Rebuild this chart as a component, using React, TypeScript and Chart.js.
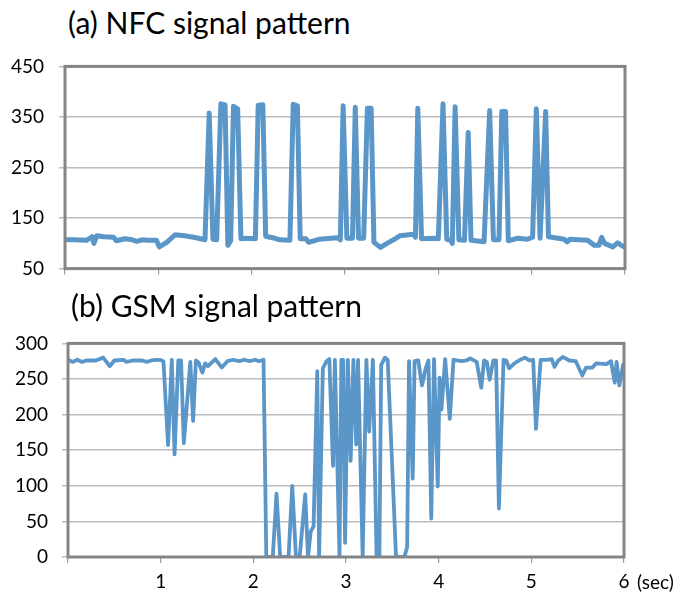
import React, { useEffect, useRef } from "react";
import { Chart, registerables } from "chart.js";

Chart.register(...registerables);

// ---- Data (time in seconds, signal value) ----
const nfcTime = [
  0, 0.1, 0.23, 0.29, 0.31, 0.34, 0.42, 0.52, 0.55, 0.64, 0.72, 0.77, 0.83, 0.88, 0.98, 1.01, 1.09, 1.18, 1.28,
  1.38, 1.5, 1.545, 1.585, 1.625, 1.67, 1.715, 1.745, 1.775, 1.805, 1.85, 1.885, 1.95, 2.04, 2.07, 2.12, 2.15,
  2.25, 2.3, 2.41, 2.445, 2.49, 2.52, 2.58, 2.61, 2.72, 2.92, 2.95, 2.98, 3.02, 3.08, 3.11, 3.145, 3.2, 3.24,
  3.28, 3.31, 3.38, 3.45, 3.52, 3.59, 3.73, 3.755, 3.78, 3.82, 3.95, 4.0, 4.05, 4.09, 4.13, 4.15, 4.18, 4.22,
  4.28, 4.32, 4.35, 4.49, 4.55, 4.59, 4.65, 4.68, 4.72, 4.75, 4.85, 4.95, 5.01, 5.05, 5.09, 5.15, 5.18, 5.35,
  5.38, 5.41, 5.6, 5.67, 5.72, 5.75, 5.78, 5.87, 5.92, 5.95, 5.99,
];
const nfcValue = [
  107, 107, 106, 113, 100, 115, 113, 112, 105, 109, 107, 104, 107, 106, 106, 93, 102, 117, 115,
  112, 107, 358, 108, 107, 376, 374, 96, 105, 371, 366, 109, 110, 109, 373, 374, 114,
  110, 107, 106, 375, 372, 109, 109, 102, 108, 111, 107, 372, 110, 110, 369, 110, 110, 367,
  367, 102, 92, 100, 107, 115, 118, 112, 367, 109, 110, 109, 376, 108, 106, 100, 370, 107,
  106, 319, 106, 103, 363, 107, 107, 361, 361, 105, 110, 108, 112, 366, 110, 361, 113, 108,
  103, 108, 106, 96, 96, 112, 100, 93, 101, 97, 93,
];

const gsmTime = [
  0, 0.05, 0.1, 0.15, 0.2, 0.3, 0.38, 0.45, 0.5, 0.6, 0.63, 0.7, 0.8, 0.85, 0.9, 0.95, 0.99, 1.03, 1.08, 1.12,
  1.15, 1.19, 1.22, 1.25, 1.32, 1.35, 1.38, 1.41, 1.45, 1.48, 1.51, 1.59, 1.66, 1.72, 1.78, 1.85, 1.9, 1.96,
  2.02, 2.06, 2.11, 2.14, 2.21, 2.25, 2.29, 2.38, 2.42, 2.46, 2.5, 2.56, 2.59, 2.62, 2.65, 2.69, 2.71, 2.75,
  2.79, 2.82, 2.86, 2.88, 2.93, 2.95, 2.97, 2.99, 3.02, 3.05, 3.08, 3.11, 3.13, 3.18, 3.22, 3.25, 3.29, 3.33,
  3.36, 3.38, 3.42, 3.45, 3.54, 3.63, 3.66, 3.68, 3.72, 3.74, 3.78, 3.82, 3.86, 3.89, 3.92, 3.95, 3.99, 4.01,
  4.03, 4.07, 4.12, 4.16, 4.25, 4.3, 4.34, 4.41, 4.46, 4.49, 4.52, 4.55, 4.59, 4.62, 4.65, 4.7, 4.73, 4.76,
  4.8, 4.84, 4.88, 4.93, 4.98, 5.02, 5.05, 5.1, 5.17, 5.22, 5.25, 5.29, 5.34, 5.41, 5.48, 5.55, 5.59, 5.66,
  5.7, 5.81, 5.86, 5.9, 5.92, 5.95, 5.99,
];
const gsmValue = [
  277, 274, 277, 274, 276, 276, 280, 268, 276, 277, 274, 276, 276, 274, 276, 277, 277, 275, 157, 277,
  144, 276, 276, 160, 274, 191, 276, 273, 259, 272, 268, 278, 266, 275, 277, 275, 277, 275,
  277, 275, 277, 0, 0, 89, 0, 0, 100, 0, 0, 88, 0, 36, 43, 261, 0, 265,
  275, 278, 128, 277, 0, 277, 277, 20, 277, 135, 277, 158, 277, 0, 277, 176, 277, 0,
  0, 270, 280, 277, 0, 0, 14, 275, 110, 275, 276, 241, 265, 276, 54, 278, 99, 252,
  207, 278, 194, 277, 275, 276, 279, 274, 238, 276, 274, 249, 276, 276, 68, 277, 276, 265,
  270, 274, 277, 280, 276, 277, 180, 277, 277, 278, 267, 276, 281, 276, 275, 255, 266, 266,
  272, 271, 275, 245, 274, 241, 270,
];

const nfcTicks = [50, 150, 250, 350, 450];
const gsmTicks = [0, 50, 100, 150, 200, 250, 300];
const secondTicks = [0, 1, 2, 3, 4, 5, 6];

const LINE_COLOR = "#5a96c8";
const FONT = "Lato";

const framePlugin = {
  id: "frame",
  afterDraw(chart: any) {
    const { ctx, chartArea } = chart;
    ctx.save();
    ctx.strokeStyle = "#858585";
    ctx.lineWidth = 3;
    ctx.strokeRect(chartArea.left, chartArea.top, chartArea.right - chartArea.left, chartArea.bottom - chartArea.top);
    ctx.restore();
  },
};

function makeConfig(
  times: number[],
  values: number[],
  yTicks: number[],
  lineWidth: number,
  showX: boolean,
  pad: { top: number; bottom: number; right: number },
  yWidth: number,
  xHeight: number,
  yPad: number
): any {
  const ymin = yTicks[0];
  const ymax = yTicks[yTicks.length - 1];
  return {
    type: "line",
    data: {
      datasets: [
        {
          data: times.map((t, i) => ({ x: t, y: values[i] })),
          borderColor: LINE_COLOR,
          borderWidth: lineWidth,
          pointRadius: 0,
          tension: 0,
          borderJoinStyle: "round",
          borderCapStyle: "round",
          fill: false,
        },
      ],
    },
    options: {
      responsive: false,
      animation: false,
      events: [],
      layout: { padding: { left: 0, top: pad.top, bottom: pad.bottom, right: pad.right } },
      plugins: { legend: { display: false }, tooltip: { enabled: false }, title: { display: false } },
      scales: {
        x: {
          type: "linear",
          min: secondTicks[0],
          max: secondTicks[secondTicks.length - 1],
          afterBuildTicks: (s: any) => {
            s.ticks = secondTicks.map((v) => ({ value: v }));
          },
          afterFit: (s: any) => {
            s.height = xHeight;
          },
          grid: { drawOnChartArea: false, drawTicks: true, tickLength: 6, color: "#9a9a9a", lineWidth: 1.2 },
          border: { display: false },
          ticks: {
            display: showX,
            padding: 7,
            color: "#000",
            font: { family: FONT, size: 19 },
            maxRotation: 0,
            autoSkip: false,
            callback: (v: any) => (v === 0 ? "" : String(v)),
          },
        },
        y: {
          type: "linear",
          min: ymin,
          max: ymax,
          afterBuildTicks: (s: any) => {
            s.ticks = yTicks.map((v) => ({ value: v }));
          },
          afterFit: (s: any) => {
            s.width = yWidth;
          },
          grid: { drawTicks: true, tickLength: 6, color: "#bcbcbc", lineWidth: 1.5 },
          border: { display: false },
          ticks: {
            padding: yPad,
            color: "#000",
            font: { family: FONT, size: 19 },
            autoSkip: false,
          },
        },
      },
    },
    plugins: [framePlugin],
  };
}

function ChartCanvas(props: { config: () => any; top: number; height: number }) {
  const ref = useRef<HTMLCanvasElement | null>(null);
  useEffect(() => {
    if (!ref.current) return;
    const chart = new Chart(ref.current, props.config());
    return () => chart.destroy();
  }, []);
  return (
    <canvas
      ref={ref}
      width={681}
      height={props.height}
      style={{ position: "absolute", left: 0, top: props.top, width: 681, height: props.height }}
    />
  );
}

export default function App() {
  const titleStyle: React.CSSProperties = {
    position: "absolute",
    fontFamily: FONT,
    fontSize: 30,
    lineHeight: "30px",
    color: "#000",
    whiteSpace: "nowrap",
  };
  return (
    <div style={{ position: "absolute", left: 0, top: 0, width: 681, height: 596, background: "#fff", overflow: "hidden" }}>
      <div style={{ ...titleStyle, left: 68, top: 7 }}>(a) NFC signal pattern</div>
      <ChartCanvas
        top={40}
        height={255}
        config={() =>
          makeConfig(nfcTime, nfcValue, nfcTicks, 5, false, { top: 18, bottom: 10, right: 56 }, 65, 10, 15)
        }
      />
      <div style={{ ...titleStyle, left: 71, top: 290 }}>(b) GSM signal pattern</div>
      <ChartCanvas
        top={318}
        height={278}
        config={() =>
          makeConfig(gsmTime, gsmValue, gsmTicks, 3.8, true, { top: 17, bottom: 0, right: 57 }, 68, 39, 14)
        }
      />
      <div
        style={{
          position: "absolute",
          left: 637,
          top: 572,
          fontFamily: FONT,
          fontSize: 19,
          lineHeight: "19px",
          color: "#000",
        }}
      >
        (sec)
      </div>
    </div>
  );
}
